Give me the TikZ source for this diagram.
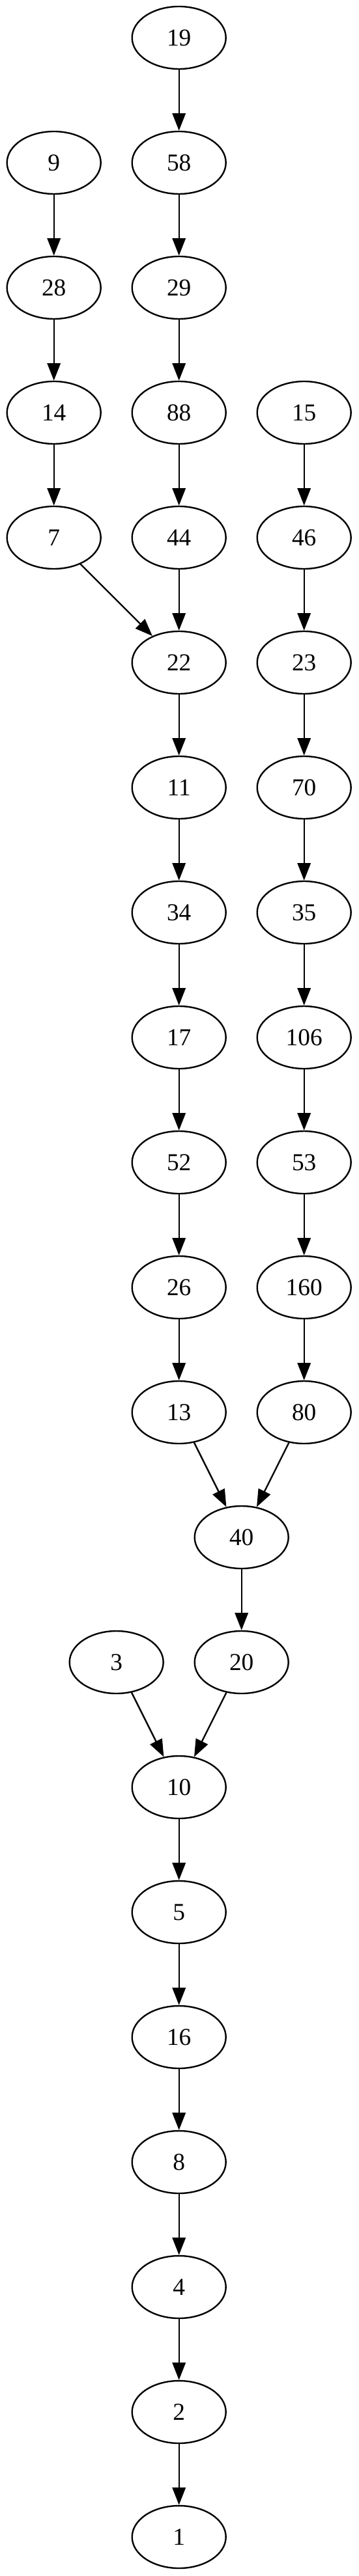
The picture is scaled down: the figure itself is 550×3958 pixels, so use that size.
\documentclass[tikz,border=0pt]{standalone}
\usepackage{fontspec}
\setmainfont{Liberation Serif}
\usetikzlibrary{shapes.geometric,arrows.meta}
\begin{document}
\begin{tikzpicture}[x=0.375pt,y=0.375pt,
  nd/.style={ellipse,draw,line width=0.9pt,minimum width=54pt,minimum height=36pt,inner sep=0pt,font=\fontsize{14pt}{16pt}\selectfont},
  ar/.style={line width=0.9pt,-{Triangle[length=10pt,width=7.6pt]}}]
\useasboundingbox (0,0) rectangle (550,-3958);
% column left
\node[nd] (n9) at (82.7,-250) {9};
\node[nd] (n28) at (82.7,-442) {28};
\node[nd] (n14) at (82.7,-634) {14};
\node[nd] (n7) at (82.7,-826) {7};
% column middle
\node[nd] (n19) at (274.7,-58) {19};
\node[nd] (n58) at (274.7,-250) {58};
\node[nd] (n29) at (274.7,-442) {29};
\node[nd] (n88) at (274.7,-634) {88};
\node[nd] (n44) at (274.7,-826) {44};
\node[nd] (n22) at (274.7,-1018) {22};
\node[nd] (n11) at (274.7,-1210) {11};
\node[nd] (n34) at (274.7,-1402) {34};
\node[nd] (n17) at (274.7,-1594) {17};
\node[nd] (n52) at (274.7,-1786) {52};
\node[nd] (n26) at (274.7,-1978) {26};
\node[nd] (n13) at (274.7,-2170) {13};
% column right
\node[nd] (n15) at (466.7,-634) {15};
\node[nd] (n46) at (466.7,-826) {46};
\node[nd] (n23) at (466.7,-1018) {23};
\node[nd] (n70) at (466.7,-1210) {70};
\node[nd] (n35) at (466.7,-1402) {35};
\node[nd] (n106) at (466.7,-1594) {106};
\node[nd] (n53) at (466.7,-1786) {53};
\node[nd] (n160) at (466.7,-1978) {160};
\node[nd] (n80) at (466.7,-2170) {80};
% lower
\node[nd] (n40) at (370.7,-2362) {40};
\node[nd] (n20) at (370.7,-2554) {20};
\node[nd] (n3) at (178.7,-2554) {3};
\node[nd] (n10) at (274.7,-2746) {10};
\node[nd] (n5) at (274.7,-2938) {5};
\node[nd] (n16) at (274.7,-3130) {16};
\node[nd] (n8) at (274.7,-3322) {8};
\node[nd] (n4) at (274.7,-3514) {4};
\node[nd] (n2) at (274.7,-3706) {2};
\node[nd] (n1) at (274.7,-3898) {1};
% edges
\draw[ar] (n9) -- (n28);
\draw[ar] (n28) -- (n14);
\draw[ar] (n14) -- (n7);
\draw[ar] (n7) -- (n22);
\draw[ar] (n19) -- (n58);
\draw[ar] (n58) -- (n29);
\draw[ar] (n29) -- (n88);
\draw[ar] (n88) -- (n44);
\draw[ar] (n44) -- (n22);
\draw[ar] (n22) -- (n11);
\draw[ar] (n11) -- (n34);
\draw[ar] (n34) -- (n17);
\draw[ar] (n17) -- (n52);
\draw[ar] (n52) -- (n26);
\draw[ar] (n26) -- (n13);
\draw[ar] (n13) -- (n40);
\draw[ar] (n15) -- (n46);
\draw[ar] (n46) -- (n23);
\draw[ar] (n23) -- (n70);
\draw[ar] (n70) -- (n35);
\draw[ar] (n35) -- (n106);
\draw[ar] (n106) -- (n53);
\draw[ar] (n53) -- (n160);
\draw[ar] (n160) -- (n80);
\draw[ar] (n80) -- (n40);
\draw[ar] (n40) -- (n20);
\draw[ar] (n3) -- (n10);
\draw[ar] (n20) -- (n10);
\draw[ar] (n10) -- (n5);
\draw[ar] (n5) -- (n16);
\draw[ar] (n16) -- (n8);
\draw[ar] (n8) -- (n4);
\draw[ar] (n4) -- (n2);
\draw[ar] (n2) -- (n1);
\end{tikzpicture}
\end{document}
